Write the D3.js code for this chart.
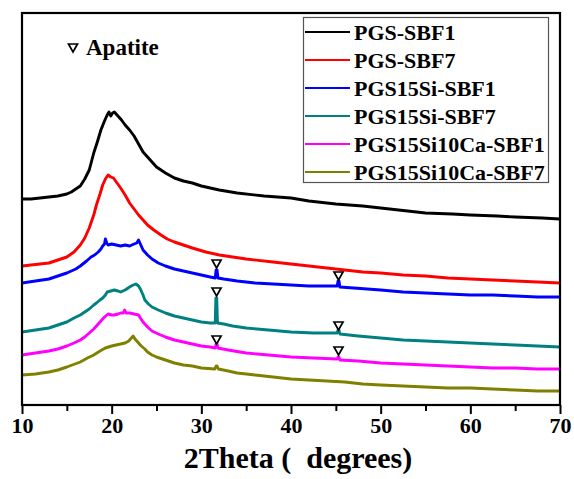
<!DOCTYPE html>
<html>
<head>
<meta charset="utf-8">
<script src="https://cdn.jsdelivr.net/npm/d3@7/dist/d3.min.js"></script>
<style>
  html, body { margin: 0; padding: 0; background: #fff; }
  svg { display: block; }
  text { font-family: "Liberation Serif", "Times New Roman", serif; font-weight: bold; }
</style>
</head>
<body>
<svg id="chart" width="574" height="479"></svg>
<script>
// XRD patterns after soaking in SBF (2θ in degrees, intensity in a.u., curves offset vertically)
const seriesNames = ["PGS-SBF1", "PGS-SBF7", "PGS15Si-SBF1", "PGS15Si-SBF7", "PGS15Si10Ca-SBF1", "PGS15Si10Ca-SBF7"];
const seriesColors = ["#000000", "#ff0000", "#0000ff", "#008080", "#ff00ff", "#808000"];

const pgsSbf1 = [[10,206],[11,206],[12,207],[13,208],[14,209],[15,211],[15.5,213],[16,216],[16.5,219],[17,226],[17.5,235],[18,252],[18.4,263],[18.8,275],[19.2,284],[19.5,290],[19.7,293],[19.9,289],[20.1,292],[20.3,293],[20.7,289],[21.1,285],[21.5,280],[22,275],[22.5,269],[23,261],[23.5,253],[24,248],[25,238],[26,232],[27,227],[28,224],[29,222],[30,219],[31,217],[32,215],[34,212],[37,209],[40,207],[42,204],[45,201],[48,199],[50,197],[53,194],[55,192],[58,191],[60,190],[63,189],[65,188],[68,187],[70,186]];
const pgsSbf7 = [[10,139],[11,140],[12,141],[13,142],[14,145],[15,148],[15.8,153],[16.5,160],[17,167],[17.5,177],[18,190],[18.3,200],[18.7,211],[19,220],[19.3,226],[19.6,230],[19.9,228],[20.2,227],[20.6,222],[21,217],[21.5,210],[22,202],[22.5,196],[23,190],[23.5,185],[24,180],[24.7,175],[25.5,170],[26.2,166],[27,163],[28,160],[29,157],[30.5,153],[32,150],[33.5,148],[35,146],[38,143],[40,141],[42,139],[44,137],[46,135],[48,133],[50,132],[52.5,130],[55,129],[57.5,127],[60,126],[62.5,125],[65,124],[67.5,123],[70,122]];
const pgs15SiSbf1 = [[10,122],[11.5,124],[13,126],[14,129],[15,132],[16,136],[16.5,139],[17.2,144],[17.7,148],[18.1,150],[18.5,153],[18.8,156],[19,159],[19.2,161],[19.3,166],[19.45,162],[19.6,160],[20,161],[20.5,160],[21,159],[21.5,160],[22,159],[22.5,161],[22.8,162],[23,165],[23.2,161],[23.5,155],[24,150],[24.5,146],[25.2,142],[26,139],[27,136],[28,134],[29,132],[30,130],[31,128],[31.55,127],[31.65,135],[31.75,135],[31.85,127],[32.5,126],[34,124],[36,122],[38,121],[40,120],[42,119],[44,119],[45.15,119],[45.25,124],[45.35,124],[45.45,118],[47,117],[50,115],[52.5,113],[55,112],[57.5,111],[60,110],[62.5,110],[65,109],[67.5,108],[70,108]];
const pgs15SiSbf7 = [[10,73],[11.5,75],[13,77],[14,80],[15,83],[15.8,87],[16.5,90],[17,93],[17.5,96],[18,100],[18.3,102],[18.7,105],[19,107],[19.3,110],[19.5,113],[19.9,114],[20.3,115],[20.7,114],[21,113],[21.5,115],[22,118],[22.4,120],[22.7,121],[23,119],[23.2,116],[23.5,110],[23.7,105],[24.1,101],[24.5,98],[25.2,95],[26,92],[27,89],[28,87],[29,85],[30,83],[31,82],[31.55,82],[31.62,107],[31.72,107],[31.8,82],[32.5,81],[33.5,79],[35,77],[37.5,75],[40,73],[42.5,72],[45.15,72],[45.25,75],[45.35,75],[45.45,71],[47.5,69],[50,67],[52.5,65],[55,64],[57.5,63],[60,62],[62.5,61],[65,60],[67.5,59],[70,58]];
const pgs15Si10CaSbf1 = [[10,50],[11.5,52],[13,54],[14,56],[15,59],[15.8,62],[16.5,65],[17,68],[17.5,72],[18,76],[18.5,81],[18.9,85],[19.2,88],[19.6,91],[20,90],[20.3,90],[20.7,91],[21,92],[21.3,92],[21.45,95],[21.6,92],[22,92],[22.5,91],[23,90],[23.2,87],[23.5,83],[24,78],[24.5,74],[25.2,71],[26,68],[27,65],[28,63],[29,61],[30,59],[31,58],[31.55,57],[31.65,61],[31.75,61],[31.85,57],[33,55],[35,52],[37.5,50],[40,48],[42.5,47],[45.15,46],[45.25,48],[45.35,48],[45.45,45],[47.5,44],[50,42],[52.5,41],[55,40],[57.5,39],[60,38],[62.5,37],[65,37],[67.5,36],[70,36]];
const pgs15Si10CaSbf7 = [[10,30],[11.5,31],[13,33],[14,35],[15,38],[16.5,43],[17.3,47],[18,50],[18.7,54],[19.3,57],[20,59],[20.5,60],[21,61],[21.5,62],[21.9,64],[22.2,67],[22.4,69],[22.6,66],[22.8,64],[23.3,59],[23.7,56],[24,53],[24.5,50],[25,48],[26,45],[27,42],[28,40],[29,39],[30,37],[31.5,36],[31.65,39],[31.75,39],[31.9,36],[33,34],[34,32],[36,30],[38,28],[40,26],[42,25],[44,24],[46,23],[48,21],[50,20],[52.5,19],[55,18],[57.5,17],[60,17],[62.5,16],[65,15],[67.5,14],[70,14]];

const seriesData = [pgsSbf1, pgsSbf7, pgs15SiSbf1, pgs15SiSbf7, pgs15Si10CaSbf1, pgs15Si10CaSbf7];

// Apatite reflections marked with ▽ : [2θ, intensity position of the marker]
const apatiteMarks = [[31.7,141],[45.3,129],[31.7,113],[45.3,79],[31.7,65],[45.3,54]];

const xTicks = [10, 20, 30, 40, 50, 60, 70];
const xMinorTicks = [15, 25, 35, 45, 55, 65];

const margin = { left: 22, right: 14, top: 13, bottom: 74 };
const W = 574, H = 479;
const svg = d3.select("#chart");

const x = d3.scaleLinear().domain([10, 70]).range([margin.left, W - margin.right]);
const y = d3.scaleLinear().domain([0, 392]).range([H - margin.bottom, margin.top]);

svg.append("clipPath").attr("id", "plotClip")
  .append("rect")
  .attr("x", x(10)).attr("y", y(392))
  .attr("width", x(70) - x(10)).attr("height", y(0) - y(392));

const line = d3.line().x(d => x(d[0])).y(d => y(d[1]));

const curves = svg.append("g").attr("clip-path", "url(#plotClip)");
seriesData.forEach((s, i) => {
  curves.append("path")
    .datum(s)
    .attr("fill", "none")
    .attr("stroke", seriesColors[i])
    .attr("stroke-width", 2.9)
    .attr("stroke-linejoin", "round")
    .attr("d", line);
});

// open down-pointing triangle
const tri = "M-4.5,-4 L4.5,-4 L0,4 Z";
svg.append("g").selectAll("path")
  .data(apatiteMarks)
  .join("path")
  .attr("transform", d => `translate(${x(d[0])},${y(d[1])})`)
  .attr("d", tri)
  .attr("fill", "none")
  .attr("stroke", "#000")
  .attr("stroke-width", 1.7);

// x axis with major and minor ticks
const xAxis = svg.append("g")
  .attr("transform", `translate(0,${y(0)})`)
  .call(d3.axisBottom(x).tickValues(xTicks).tickSize(9).tickPadding(3).tickFormat(d3.format("d")));
xAxis.select(".domain").remove();
xAxis.selectAll(".tick line").attr("stroke", "#000").attr("stroke-width", 2);
xAxis.selectAll(".tick text")
  .attr("fill", "#000")
  .attr("font-size", 22)
  .attr("font-family", "Liberation Serif, Times New Roman, serif")
  .attr("font-weight", "bold");

const xMinor = svg.append("g")
  .attr("transform", `translate(0,${y(0)})`)
  .call(d3.axisBottom(x).tickValues(xMinorTicks).tickSize(6).tickFormat(""));
xMinor.select(".domain").remove();
xMinor.selectAll(".tick line").attr("stroke", "#000").attr("stroke-width", 2);

// plot frame
svg.append("rect")
  .attr("x", x(10)).attr("y", y(392))
  .attr("width", x(70) - x(10)).attr("height", y(0) - y(392))
  .attr("fill", "none").attr("stroke", "#000").attr("stroke-width", 2.2);

// axis title
svg.append("text")
  .attr("x", 298).attr("y", 468)
  .attr("text-anchor", "middle")
  .attr("font-size", 30)
  .attr("fill", "#000")
  .style("white-space", "pre")
  .attr("xml:space", "preserve")
  .text("2Theta (  degrees)");

// Apatite key
svg.append("path")
  .attr("transform", "translate(73,48)")
  .attr("d", tri)
  .attr("fill", "none").attr("stroke", "#000").attr("stroke-width", 1.7);
svg.append("text")
  .attr("x", 86).attr("y", 55)
  .attr("font-size", 23)
  .attr("fill", "#000")
  .text("Apatite");

// series legend
const legend = svg.append("g");
legend.append("rect")
  .attr("x", 303.5).attr("y", 17.5).attr("width", 245).attr("height", 165)
  .attr("fill", "#fff").attr("stroke", "#555").attr("stroke-width", 1.2);
const rows = legend.selectAll("g.row")
  .data(seriesNames)
  .join("g")
  .attr("class", "row")
  .attr("transform", (d, i) => `translate(0,${32 + i * 28})`);
rows.append("line")
  .attr("x1", 305).attr("x2", 350).attr("y1", 0).attr("y2", 0)
  .attr("stroke", (d, i) => seriesColors[i]).attr("stroke-width", 2);
rows.append("text")
  .attr("x", 354).attr("y", 7.5)
  .attr("font-size", 22)
  .attr("fill", "#000")
  .text(d => d);
</script>
</body>
</html>
